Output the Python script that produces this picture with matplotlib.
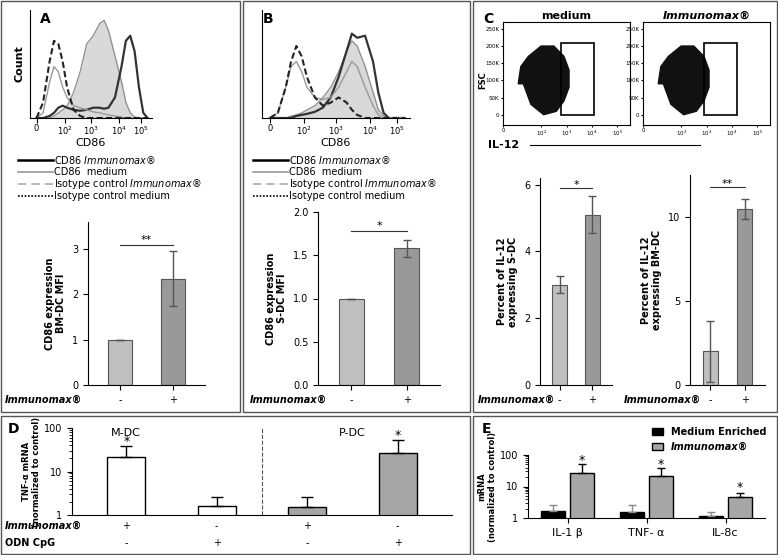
import matplotlib
matplotlib.use("Agg")
import matplotlib.pyplot as plt
from matplotlib.patches import Rectangle

W, H = 778, 555
fig = plt.figure(figsize=(7.78, 5.55), dpi=100)
plt.rcParams['font.family'] = ['DejaVu Sans']

def ax_px(x0, y0, x1, y1, **kw):
    return fig.add_axes([x0 / W, 1 - y1 / H, (x1 - x0) / W, (y1 - y0) / H], **kw)

def box(x0, y0, x1, y1):
    fig.add_artist(Rectangle((x0 / W, 1 - y1 / H), (x1 - x0) / W, (y1 - y0) / H,
                             transform=fig.transFigure, fill=False, lw=1, ec='#555555'))

# ---- data ----
hx = [0.0, 0.3, 0.6, 0.8, 1.0, 1.2, 1.4, 1.7, 2.0, 2.3, 2.6, 2.9, 3.1, 3.3, 3.6, 3.9, 4.1, 4.3, 4.5, 4.7, 4.9, 5.1]
a_iso = [0.0, 0.15, 0.55, 0.75, 0.72, 0.55, 0.3, 0.08, 0.02, 0.0, 0.0, 0.0, 0, 0, 0, 0, 0, 0, 0, 0, 0, 0]
a_imm_fill = [0, 0, 0, 0.02, 0.05, 0.08, 0.12, 0.25, 0.45, 0.72, 0.8, 0.92, 0.95, 0.85, 0.6, 0.35, 0.15, 0.05, 0.01, 0, 0, 0]
a_cd86_imm = [0, 0, 0.02, 0.05, 0.1, 0.12, 0.1, 0.08, 0.07, 0.08, 0.1, 0.1, 0.09, 0.1, 0.2, 0.5, 0.75, 0.8, 0.65, 0.3, 0.05, 0]
a_cd86_med = [0, 0.05, 0.35, 0.5, 0.45, 0.3, 0.2, 0.12, 0.1, 0.08, 0.06, 0.05, 0.04, 0.03, 0.02, 0.01, 0, 0, 0, 0, 0, 0]

b_iso = [0, 0.05, 0.3, 0.55, 0.7, 0.6, 0.4, 0.2, 0.12, 0.15, 0.2, 0.15, 0.08, 0.03, 0, 0, 0, 0, 0, 0, 0, 0]
b_fill = [0, 0, 0, 0.02, 0.03, 0.05, 0.08, 0.12, 0.2, 0.3, 0.45, 0.65, 0.75, 0.7, 0.5, 0.25, 0.08, 0.02, 0, 0, 0, 0]
b_cd86_imm = [0, 0, 0, 0, 0.02, 0.03, 0.04, 0.06, 0.1, 0.2, 0.4, 0.65, 0.82, 0.78, 0.8, 0.55, 0.25, 0.05, 0, 0, 0, 0]
b_cd86_med = [0, 0.05, 0.3, 0.5, 0.55, 0.45, 0.3, 0.2, 0.18, 0.2, 0.3, 0.45, 0.55, 0.5, 0.3, 0.12, 0.03, 0, 0, 0, 0, 0]

treat = ['-', '+']
a_mfi = [1.0, 2.35]; a_err = [0, 0.6]
b_mfi = [1.0, 1.58]; b_err = [0, 0.1]
c_sdc = [3.0, 5.1]; c_sdc_err = [0.25, 0.55]
c_bm = [2.0, 10.5]; c_bm_err = [1.8, 0.6]

d_vals = [21, 1.6, 1.5, 26]
d_err = [18, 1.0, 1.1, 27]
d_imm = ['+', '-', '+', '-']
d_odn = ['-', '+', '-', '+']

e_genes = ['IL-1 β', 'TNF- α', 'IL-8c']
e_med = [1.7, 1.6, 1.2]; e_med_err = [0.8, 0.9, 0.35]
e_imm = [27, 21, 4.5]; e_imm_err = [25, 18, 1.5]

blob_x = [0.8, 1.1, 1.6, 2.1, 2.4, 2.6, 2.6, 2.4, 2.0, 1.5, 1.0, 0.7, 0.6]
blob_y = [1.2, 0.6, 0.3, 0.4, 0.7, 1.1, 1.6, 2.0, 2.3, 2.3, 2.0, 1.7, 1.2]

# ---- boxes ----
box(1, 1, 240, 412); box(243, 1, 470, 412); box(473, 1, 777, 412)
box(1, 416, 470, 554); box(473, 416, 777, 554)

def hist(ax, fillv, solid, med, iso):
    ax.fill_between(hx, fillv, color='#d9d9d9')
    ax.plot(hx, fillv, color='#888888', lw=0.8)
    ax.plot(hx, solid, color='#333333', lw=1.6)
    ax.plot(hx, med, color='#999999', lw=1)
    ax.plot(hx, iso, color='#222222', lw=1.5, ls=(0, (3, 1.5)))
    ax.set_xlim(-0.3, 5.3); ax.set_ylim(0, 1.05)
    ax.set_yticks([])
    ax.set_xticks([0, 1.3, 2.5, 3.8, 4.8])
    ax.set_xticklabels(['0', '$10^2$', '$10^3$', '$10^4$', '$10^5$'], fontsize=6)
    ax.tick_params(pad=1)
    for s in ['top', 'right']:
        ax.spines[s].set_visible(False)
    ax.set_xlabel('CD86', fontsize=8, labelpad=1)

def legend(x0, y0):
    items = [('#000000', '-', 1.8, 'CD86 $\\it{Immunomax®}$'), ('#999999', '-', 1.2, 'CD86  medium'),
             ('#aaaaaa', (0, (5, 3)), 1.2, 'Isotype control $\\it{Immunomax®}$'),
             ('#000000', (0, (1, 1)), 1.2, 'Isotype control medium')]
    for i, (c, ls, lw, t) in enumerate(items):
        y = 1 - (y0 + i * 12) / H
        fig.add_artist(plt.Line2D([x0 / W, (x0 + 35) / W], [y, y], color=c, ls=ls, lw=lw))
        fig.text((x0 + 36) / W, y, t, fontsize=7, va='center')

def bars(ax, vals, errs, ylim, yticks, ylabel, fmt=None):
    ax.bar([0, 1], vals, width=0.45, color=['#bfbfbf', '#999999'], edgecolor='#555555', lw=0.8,
           yerr=errs, error_kw=dict(ecolor='#555555', capsize=3, lw=1))
    ax.set_xlim(-0.6, 1.6); ax.set_ylim(*ylim); ax.set_yticks(yticks)
    if fmt:
        ax.set_yticklabels([fmt % v for v in yticks])
    ax.set_xticks([0, 1]); ax.set_xticklabels(treat, fontsize=7)
    ax.tick_params(labelsize=7)
    for s in ['top', 'right']:
        ax.spines[s].set_visible(False)
    ax.set_ylabel(ylabel, fontsize=7, fontweight='bold')

# ---- A ----
fig.text(40 / W, 1 - 12 / H, 'A', fontsize=10, fontweight='bold', va='top')
a1 = ax_px(30, 10, 152, 118)
hist(a1, a_imm_fill, a_cd86_imm, a_cd86_med, a_iso)
a1.set_ylabel('Count', fontsize=8, fontweight='bold')
legend(18, 160)
a2 = ax_px(88, 222, 205, 385)
bars(a2, a_mfi, a_err, (0, 3.6), [0, 1, 2, 3], 'CD86 expression\nBM-DC MFI')
a2.plot([0, 1], [3.1, 3.1], color='#333333', lw=0.8)
a2.text(0.5, 3.1, '**', ha='center', va='bottom', fontsize=8)
fig.text(5 / W, 1 - 400 / H, 'Immunomax®', fontsize=7, fontweight='bold', style='italic', va='center')

# ---- B ----
fig.text(263 / W, 1 - 12 / H, 'B', fontsize=10, fontweight='bold', va='top')
b1 = ax_px(262, 10, 410, 118)
hist(b1, b_fill, b_cd86_imm, b_cd86_med, b_iso)
legend(253, 160)
b2 = ax_px(318, 212, 440, 385)
bars(b2, b_mfi, b_err, (0, 2.0), [0, 0.5, 1.0, 1.5, 2.0], 'CD86 expression\nS-DC MFI', '%.1f')
b2.plot([0, 1], [1.78, 1.78], color='#333333', lw=0.8)
b2.text(0.5, 1.78, '*', ha='center', va='bottom', fontsize=8)
fig.text(250 / W, 1 - 400 / H, 'Immunomax®', fontsize=7, fontweight='bold', style='italic', va='center')

# ---- C ----
fig.text(483 / W, 1 - 12 / H, 'C', fontsize=10, fontweight='bold', va='top')
for k, (x0, title, gx) in enumerate([(503, 'medium', 2.3), (643, 'Immunomax®', 2.4)]):
    ax = ax_px(x0, 22, x0 + 127, 125)
    ax.fill(blob_x, blob_y, color='#111111')
    ax.add_patch(Rectangle((gx, 0.3), 1.3, 2.1, fill=False, lw=1.2, ec='black'))
    ax.set_xlim(0, 5); ax.set_ylim(0, 3)
    ax.set_xticks([0, 1.5, 2.5, 3.5, 4.5]); ax.set_xticklabels(['0', '$10^2$', '$10^3$', '$10^4$', '$10^5$'], fontsize=4)
    ax.set_yticks([0.3, 0.8, 1.3, 1.8, 2.3, 2.8])
    ax.set_yticklabels(['0', '50K', '100K', '150K', '200K', '250K'], fontsize=4)
    ax.tick_params(length=1.5, pad=1)
    ax.set_title(title, fontsize=8, fontweight='bold', style='italic' if k else 'normal', pad=2)
fig.text(478 / W, 1 - 80 / H, 'FSC', fontsize=6, fontweight='bold', rotation=90, va='center')
fig.text(488 / W, 1 - 145 / H, 'IL-12', fontsize=8, fontweight='bold', va='center')
fig.add_artist(plt.Line2D([530 / W, 700 / W], [1 - 145 / H] * 2, color='black', lw=0.8))
c1 = ax_px(540, 178, 612, 385)
bars(c1, c_sdc, c_sdc_err, (0, 6.2), [0, 2, 4, 6], 'Percent of IL-12\nexpressing S-DC')
c1.plot([0, 1], [5.9, 5.9], color='#333333', lw=0.8); c1.text(0.5, 5.9, '*', ha='center', fontsize=8)
c2 = ax_px(690, 175, 765, 385)
bars(c2, c_bm, c_bm_err, (0, 12.5), [0, 5, 10], 'Percent of IL-12\nexpressing BM-DC')
c2.plot([0, 1], [11.8, 11.8], color='#333333', lw=0.8); c2.text(0.5, 11.8, '**', ha='center', fontsize=8)
fig.text(478 / W, 1 - 400 / H, 'Immunomax®', fontsize=7, fontweight='bold', style='italic', va='center')
fig.text(624 / W, 1 - 400 / H, 'Immunomax®', fontsize=7, fontweight='bold', style='italic', va='center')

# ---- D ----
fig.text(8 / W, 1 - 422 / H, 'D', fontsize=10, fontweight='bold', va='top')
d = ax_px(72, 428, 452, 515)
d.bar(range(4), d_vals, width=0.42, color=['white', 'white', '#a6a6a6', '#a6a6a6'], edgecolor='black', lw=1,
      yerr=[[0] * 4, d_err], error_kw=dict(ecolor='black', capsize=4, lw=1))
d.set_yscale('log'); d.set_ylim(1, 100); d.set_xlim(-0.6, 3.6)
d.set_yticks([1, 10, 100]); d.set_yticklabels(['1', '10', '100'], fontsize=7)
d.set_xticks([])
for s in ['top', 'right']:
    d.spines[s].set_visible(False)
d.axvline(1.5, color='#555555', ls='--', lw=0.8)
for i, v in enumerate(d_vals):
    if v > 10:
        d.text(i, v + d_err[i] + 2, '*', ha='center', fontsize=9)
d.text(0, 100, 'M-DC', ha='center', va='top', fontsize=8)
d.text(2.5, 100, 'P-DC', ha='center', va='top', fontsize=8)
d.set_ylabel('TNF-α mRNA\n(normalized to control)', fontsize=6, fontweight='bold', labelpad=2)
for i in range(4):
    xf = (72 + (i + 0.6) / 4.2 * 380) / W
    fig.text(xf, 1 - 526 / H, d_imm[i], ha='center', va='center', fontsize=7)
    fig.text(xf, 1 - 543 / H, d_odn[i], ha='center', va='center', fontsize=7)
fig.text(5 / W, 1 - 526 / H, 'Immunomax®', fontsize=7, fontweight='bold', style='italic', va='center')
fig.text(5 / W, 1 - 543 / H, 'ODN CpG', fontsize=7, fontweight='bold', va='center')

# ---- E ----
fig.text(482 / W, 1 - 422 / H, 'E', fontsize=10, fontweight='bold', va='top')
e = ax_px(528, 455, 765, 518)
xs = range(3)
e.bar([x - 0.18 for x in xs], e_med, width=0.3, color='black', edgecolor='black',
      yerr=[[0] * 3, e_med_err], error_kw=dict(ecolor='#888888', capsize=3, lw=1), label='Medium Enriched')
e.bar([x + 0.18 for x in xs], e_imm, width=0.3, color='#a6a6a6', edgecolor='black',
      yerr=[[0] * 3, e_imm_err], error_kw=dict(ecolor='black', capsize=3, lw=1), label='Immunomax®')
for i in xs:
    e.text(i + 0.18, e_imm[i] + e_imm_err[i] + 1, '*', ha='center', fontsize=9)
e.set_yscale('log'); e.set_ylim(1, 100); e.set_xlim(-0.5, 2.5)
e.set_yticks([1, 10, 100]); e.set_yticklabels(['1', '10', '100'], fontsize=7)
e.set_xticks(list(xs)); e.set_xticklabels(e_genes, fontsize=8)
for s in ['top', 'right']:
    e.spines[s].set_visible(False)
e.set_ylabel('mRNA\n(normalized to control)', fontsize=6, fontweight='bold', labelpad=2)
h, l = e.get_legend_handles_labels()
leg = fig.legend(h, ['Medium Enriched', 'Immunomax®'], loc='upper left', bbox_to_anchor=(643 / W, 1 - 418 / H),
                 frameon=False, fontsize=7, handlelength=1.2, prop={'weight': 'bold', 'size': 7})
leg.get_texts()[1].set_style('italic')

fig.savefig('out.png', dpi=100)
